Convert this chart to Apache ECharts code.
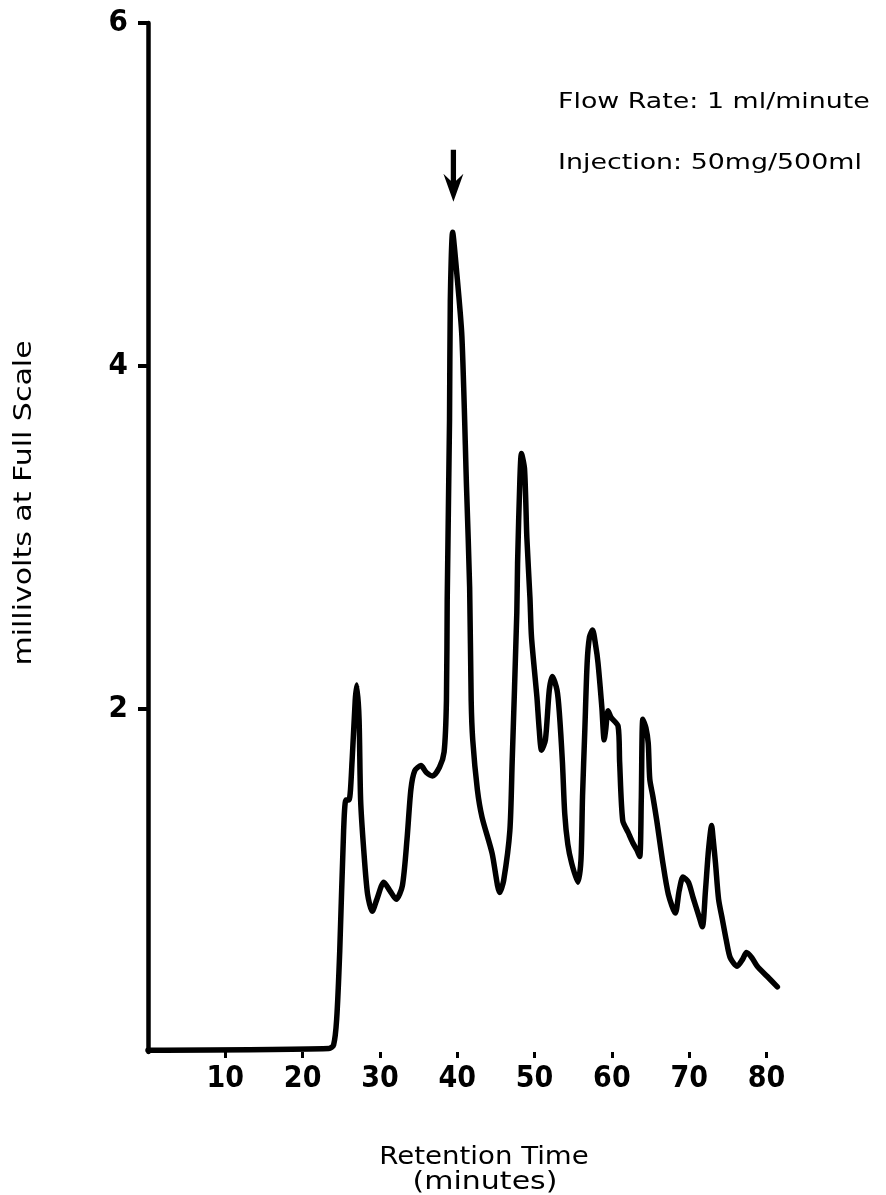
<!DOCTYPE html>
<html>
<head>
<meta charset="utf-8">
<script src="https://cdn.jsdelivr.net/npm/echarts@6/dist/echarts.min.js"></script>
<style>
html,body{margin:0;padding:0;background:#fff;}
#chart{width:886px;height:1195px;}
</style>
</head>
<body>
<div id="chart"></div>
<script>
// Retention time (minutes)
var retentionTime = [
  0, 23.4, 24.0, 24.4, 24.8, 25.3, 25.6, 26.0, 26.4, 26.8,
  27.0, 27.3, 27.5, 27.9, 28.4, 29.0, 29.6, 30.5, 31.3, 32.1,
  32.9, 33.5, 34.0, 34.5, 35.3, 36.0, 36.8, 37.7, 38.3, 38.6,
  38.7, 39.0, 39.1, 39.4, 39.9, 40.6, 41.2, 41.6, 41.8, 42.0,
  42.6, 43.2, 44.5, 45.5, 46.0, 46.8, 47.1, 47.7, 47.8, 48.1,
  48.3, 48.7, 49.0, 49.4, 49.6, 50.3, 50.6, 50.9, 51.4, 51.9,
  52.3, 52.9, 53.2, 53.6, 53.9, 54.3, 54.8, 55.6, 56.0, 56.2,
  56.5, 56.8, 57.1, 57.5, 57.9, 58.2, 58.7, 59.0, 59.2, 59.5,
  59.9, 60.8, 61.0, 61.4, 62.1, 62.7, 63.2, 63.6, 63.8, 64.0,
  64.4, 64.7, 64.9, 65.3, 65.8, 66.6, 67.3, 68.2, 68.7, 69.2,
  69.9, 70.5, 71.2, 71.7, 72.1, 72.5, 72.9, 73.1, 73.4, 73.8,
  74.3, 74.8, 75.3, 76.2, 76.9, 77.4, 78.1, 78.8, 80.1, 81.4
];
// Detector response (millivolts at full scale)
var millivolts = [
  0.01, 0.02, 0.04, 0.19, 0.59, 1.29, 1.47, 1.47, 1.70, 2.05,
  2.14, 1.94, 1.47, 1.18, 0.92, 0.82, 0.89, 0.99, 0.94, 0.89,
  0.97, 1.24, 1.53, 1.64, 1.67, 1.63, 1.61, 1.66, 1.75, 2.05,
  2.64, 3.69, 4.38, 4.78, 4.56, 4.17, 3.29, 2.71, 2.05, 1.82,
  1.53, 1.37, 1.16, 0.93, 1.00, 1.29, 1.69, 2.56, 2.85, 3.34,
  3.49, 3.40, 3.00, 2.65, 2.42, 2.07, 1.88, 1.76, 1.82, 2.11,
  2.19, 2.11, 1.98, 1.69, 1.39, 1.21, 1.10, 0.99, 1.12, 1.49,
  1.88, 2.27, 2.42, 2.46, 2.37, 2.27, 2.01, 1.82, 1.88, 1.99,
  1.95, 1.90, 1.69, 1.35, 1.28, 1.22, 1.18, 1.14, 1.47, 1.94,
  1.89, 1.80, 1.59, 1.49, 1.35, 1.10, 0.92, 0.81, 0.94, 1.02,
  0.99, 0.90, 0.80, 0.73, 0.94, 1.18, 1.32, 1.24, 1.10, 0.89,
  0.77, 0.65, 0.55, 0.50, 0.54, 0.58, 0.55, 0.50, 0.44, 0.38
];
var xTicks = [10, 20, 30, 40, 50, 60, 70, 80];
var yTicks = [2, 4, 6];
var arrowAt = [39.5, 5.11];   // marked peak
var annotation1 = 'Flow Rate: 1 ml/minute';
var annotation2 = 'Injection: 50mg/500ml';
var xTitle1 = 'Retention Time';
var xTitle2 = '(minutes)';
var yTitle = 'millivolts at Full Scale';

var points = retentionTime.map(function (t, i) { return [t, millivolts[i]]; });
var tickFont = '"Liberation Sans Narrow", "DejaVu Sans Condensed", sans-serif';
var textFont = '"DejaVu Sans", sans-serif';

var chart = echarts.init(document.getElementById('chart'), null, {renderer: 'canvas'});
chart.setOption({
  backgroundColor: '#ffffff',
  animation: false,
  grid: {left: 148, right: 104, top: 23, bottom: 143, containLabel: false},
  xAxis: {
    type: 'value', min: 0, max: 82, interval: 10,
    axisLine: {show: false},
    splitLine: {show: false},
    axisTick: {show: true, customValues: xTicks, length: 6, lineStyle: {color: '#000', width: 3}},
    axisLabel: {customValues: xTicks, margin: 12, color: '#000', fontFamily: tickFont,
      fontWeight: 'bold', fontSize: 30}
  },
  yAxis: {
    type: 'value', min: 0, max: 6, interval: 2,
    axisLine: {show: true, lineStyle: {color: '#000', width: 4.5}},
    splitLine: {show: false},
    axisTick: {show: true, customValues: yTicks, length: 10, lineStyle: {color: '#000', width: 4}},
    axisLabel: {customValues: yTicks, margin: 20, color: '#000', fontFamily: tickFont,
      fontWeight: 'bold', fontSize: 31}
  },
  series: [{
    type: 'line',
    data: points,
    showSymbol: false,
    smooth: 0.25,
    lineStyle: {color: '#000', width: 5.5, cap: 'round', join: 'round'},
    markPoint: {
      silent: true,
      symbol: 'path://M7.5,0 L12.5,0 L12.5,31 L19.5,24 L10,52 L0.5,24 L7.5,31 Z',
      symbolSize: [20, 52],
      symbolKeepAspect: false,
      itemStyle: {color: '#000'},
      label: {show: false},
      data: [{coord: arrowAt}]
    }
  }],
  graphic: [
    {type: 'text', x: 558, y: 102, scaleX: 1.22,
      style: {text: annotation1, font: '22px ' + textFont, fill: '#000', textAlign: 'left', textVerticalAlign: 'middle'}},
    {type: 'text', x: 558, y: 163, scaleX: 1.22,
      style: {text: annotation2, font: '22px ' + textFont, fill: '#000', textAlign: 'left', textVerticalAlign: 'middle'}},
    {type: 'text', x: 484, y: 1158, scaleX: 1.15,
      style: {text: xTitle1, font: '24px ' + textFont, fill: '#000', textAlign: 'center', textVerticalAlign: 'middle'}},
    {type: 'text', x: 485, y: 1183, scaleX: 1.25,
      style: {text: xTitle2, font: '24px ' + textFont, fill: '#000', textAlign: 'center', textVerticalAlign: 'middle'}},
    {type: 'text', x: 24, y: 503, rotation: Math.PI / 2, scaleX: 1.2,
      style: {text: yTitle, font: '25px ' + textFont, fill: '#000', textAlign: 'center', textVerticalAlign: 'middle'}}
  ]
});
</script>
</body>
</html>
